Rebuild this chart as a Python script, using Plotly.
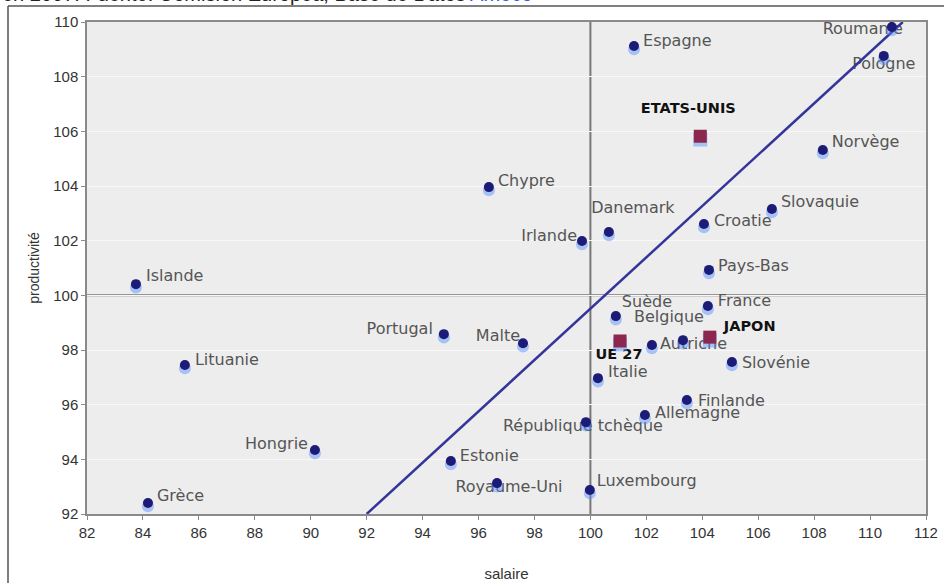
import plotly.graph_objects as go

# ---------------- data ----------------
countries = ["Roumanie", "Pologne", "Espagne", "Norvège", "Chypre", "Danemark", "Irlande",
             "Croatie", "Slovaquie", "Pays-Bas", "Islande", "Suède", "France", "Belgique",
             "Autriche", "Slovénie", "Malte", "Portugal", "Lituanie", "Italie", "Finlande",
             "Allemagne", "République tchèque", "Hongrie", "Estonie", "Royaume-Uni",
             "Luxembourg", "Grèce"]
salaire = [110.78, 110.49, 101.56, 108.31, 96.37, 100.66, 99.70,
           104.06, 106.49, 104.24, 83.75, 100.91, 104.20, 103.31,
           102.20, 105.06, 97.59, 94.76, 85.50, 100.27, 103.45,
           101.95, 99.84, 90.15, 95.01, 96.66,
           99.98, 84.18]
productivite = [109.82, 108.76, 109.12, 105.32, 103.96, 102.32, 101.99,
                102.61, 103.16, 100.93, 100.41, 99.24, 99.61, 98.36,
                98.18, 97.56, 98.25, 98.58, 97.45, 96.97, 96.17,
                95.62, 95.36, 94.34, 93.94, 93.13,
                92.88, 92.40]

blocs = ["ETATS-UNIS", "JAPON", "UE 27"]
blocs_salaire = [103.93, 104.27, 101.06]
blocs_productivite = [105.82, 98.47, 98.33]

trend_x = [92.0, 111.17]
trend_y = [92.0, 110.0]
ref_x = 100
ref_y = 100

x_ticks = list(range(82, 113, 2))
y_ticks = list(range(92, 111, 2))

caption = "en 2007. Fuente: Comisión Europea, Base de Datos "
caption_link = "Ameco"

# ---------------- label styles (anchor side and pixel offsets) ----------------
label_pos = ["middle left", "middle center", "middle right", "middle right", "middle right",
             "middle center", "middle left", "middle right", "middle right", "middle right",
             "middle right", "middle right", "middle right", "middle center", "middle right",
             "middle right", "middle left", "middle left", "middle right", "middle right",
             "middle right", "middle right", "middle center", "middle left", "middle right",
             "middle center", "middle right", "middle right"]
label_dx = [11, 0, 9, 9, 9, 24, -5, 10, 9, 9, 10, 6, 10, -14, 8, 10, -3, -11, 10, 10, 11, 10,
            -3, -7, 9, 12, 7, 9]
label_dy = [3, 9, -4, -7, -5, -23, -4, -2, -6, -3, -7, -13, -4, -22, 0, 2, -6, -4, -4, -5, 2, -1,
            5, -5, -4, 5, -8, -6]
bloc_pos = ["middle center", "middle right", "middle center"]
bloc_dx = [-12, 14, -1]
bloc_dy = [-27, -10, 14]

NAVY = "#1c1c78"
GLOW = "rgba(80,140,255,0.45)"
SQUARE = "#8c2850"
LABEL_FONT = dict(family="DejaVu Sans, Verdana, sans-serif", size=16, color="#555555")
BLOC_FONT = dict(family="DejaVu Sans, Verdana, sans-serif", size=14.5, color="#111111")
GLOW_SHIFT = 0.12

# plot geometry in pixels (for converting pixel offsets to axis units)
X_RANGE = [82, 112]
Y_RANGE = [92, 110]
MARGIN = dict(l=87, r=18, t=22, b=69)
W, H = 944, 583
PW = W - MARGIN["l"] - MARGIN["r"]
PH = H - MARGIN["t"] - MARGIN["b"]
PX_X = PW / (X_RANGE[1] - X_RANGE[0])
PX_Y = PH / (Y_RANGE[1] - Y_RANGE[0])

fig = go.Figure()

# labels (underneath markers)
fig.add_trace(go.Scatter(x=[v + d / PX_X for v, d in zip(salaire, label_dx)],
                         y=[v - d / PX_Y for v, d in zip(productivite, label_dy)],
                         mode="text", text=countries,
                         textposition=label_pos, textfont=LABEL_FONT,
                         hoverinfo="skip", showlegend=False))
fig.add_trace(go.Scatter(x=[v + d / PX_X for v, d in zip(blocs_salaire, bloc_dx)],
                         y=[v - d / PX_Y for v, d in zip(blocs_productivite, bloc_dy)],
                         mode="text", text=["<b>" + b + "</b>" for b in blocs],
                         textposition=bloc_pos, textfont=BLOC_FONT,
                         hoverinfo="skip", showlegend=False))

# regression line
fig.add_trace(go.Scatter(x=trend_x, y=trend_y, mode="lines",
                         line=dict(color="#34349a", width=2.5), showlegend=False, hoverinfo="skip"))

# glow
fig.add_trace(go.Scatter(x=salaire, y=[v - GLOW_SHIFT for v in productivite], mode="markers",
                         marker=dict(size=12, color=GLOW, line=dict(width=0)),
                         showlegend=False, hoverinfo="skip"))
fig.add_trace(go.Scatter(x=blocs_salaire, y=[v - GLOW_SHIFT for v in blocs_productivite], mode="markers",
                         marker=dict(size=14, symbol="square", color=GLOW, line=dict(width=0)),
                         showlegend=False, hoverinfo="skip"))

# markers
fig.add_trace(go.Scatter(x=salaire, y=productivite, mode="markers",
                         marker=dict(size=10, color=NAVY, line=dict(width=0)),
                         showlegend=False, text=countries))
fig.add_trace(go.Scatter(x=blocs_salaire, y=blocs_productivite, mode="markers",
                         marker=dict(size=13, symbol="square", color=SQUARE, line=dict(width=0)),
                         showlegend=False, text=blocs))

# reference lines
fig.add_shape(type="line", x0=ref_x, x1=ref_x, y0=0, y1=1, xref="x", yref="paper",
              line=dict(color="#777777", width=2), layer="below")
fig.add_shape(type="line", x0=0, x1=1, y0=ref_y, y1=ref_y, xref="paper", yref="y",
              line=dict(color="#777777", width=2), layer="below")

# outer frame lines (left and top), like the cropped reference
fx0 = (8 - MARGIN["l"]) / PW
fy_top = (H - MARGIN["b"] - 6) / PH
fig.add_shape(type="line", xref="paper", yref="paper", x0=fx0, x1=fx0,
              y0=-MARGIN["b"] / PH - 0.05, y1=fy_top, line=dict(color="#555555", width=1.5))
fig.add_shape(type="line", xref="paper", yref="paper", x0=fx0, x1=1.1,
              y0=fy_top, y1=fy_top, line=dict(color="#555555", width=1.5))

# caption (cut off at the top like the reference)
fig.add_annotation(xref="paper", yref="paper", x=(0 - MARGIN["l"]) / PW,
                   y=(H - MARGIN["b"] - 7) / PH,
                   xanchor="left", yanchor="bottom", showarrow=False,
                   text=caption + "<span style='color:#2a5bd7'>" + caption_link + "</span>",
                   font=dict(family="Liberation Sans, Arial, sans-serif", size=20, color="#222222"))

axis_common = dict(showline=True, linecolor="#8a8a8a", linewidth=1.5, mirror=True,
                   ticks="outside", ticklen=4, tickcolor="#8a8a8a", automargin=False,
                   tickfont=dict(family="Liberation Sans, Arial, sans-serif", size=15, color="#333333"),
                   zeroline=False)

fig.update_layout(
    width=W, height=H,
    margin=MARGIN,
    paper_bgcolor="white",
    plot_bgcolor="#ededed",
    font=dict(family="Liberation Sans, Arial, sans-serif"),
    xaxis=dict(range=X_RANGE, tickvals=x_ticks, showgrid=False,
               title=dict(text="salaire", font=dict(size=15, color="#333333"), standoff=29),
               **axis_common),
    yaxis=dict(range=Y_RANGE, tickvals=y_ticks, showgrid=True, gridcolor="#f8f8f8", gridwidth=1,
               title=dict(text="productivité", font=dict(size=14, color="#333333"), standoff=10),
               **axis_common),
    showlegend=False,
)

fig.write_html("out.html", config={"displayModeBar": False},
               post_script="document.body.style.margin='0';document.body.style.overflow='hidden';")
